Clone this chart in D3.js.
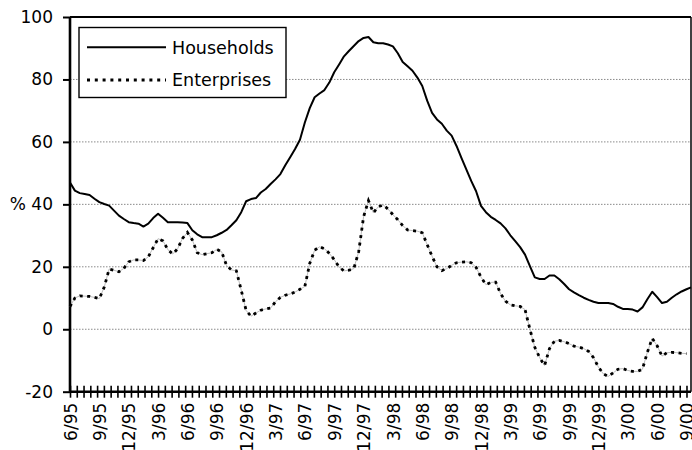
<!DOCTYPE html>
<html>
<head>
<meta charset="utf-8">
<script src="https://cdn.jsdelivr.net/npm/d3@7"></script>
<style>
  html, body { margin: 0; padding: 0; background: #fff; }
  svg { display: block; }
  text { font-family: "DejaVu Sans", sans-serif; fill: #000; }
</style>
</head>
<body>
<svg id="chart" width="692" height="450"></svg>
<script>
// ---- data (semi-monthly readings, starting 6/95) ----
const xLabels = ["6/95","9/95","12/95","3/96","6/96","9/96","12/96","3/97","6/97","9/97","12/97",
                 "3/98","6/98","9/98","12/98","3/99","6/99","9/99","12/99","3/00","6/00","9/00"];
const yTicks = [-20, 0, 20, 40, 60, 80, 100];
const seriesNames = ["Households", "Enterprises"];
const households = [
  47, 44.4, 43.6, 43.3, 43, 41.8, 40.7, 40.1, 39.6, 38,
  36.4, 35.3, 34.3, 34, 33.8, 32.9, 33.8, 35.6, 37, 35.7,
  34.3, 34.3, 34.3, 34.2, 34, 31.7, 30.4, 29.5, 29.5, 29.5,
  30.1, 30.9, 31.8, 33.3, 34.9, 37.5, 41, 41.7, 42, 43.8,
  44.9, 46.5, 48, 49.7, 52.5, 55.1, 57.7, 60.7, 66.2, 70.8,
  74.3, 75.5, 76.6, 79, 82.3, 84.8, 87.4, 89.1, 90.7, 92.3,
  93.3, 93.6, 91.9, 91.6, 91.6, 91.2, 90.6, 88.4, 85.6, 84.2,
  82.8, 80.6, 77.9, 73.2, 69.3, 67.2, 65.8, 63.6, 62, 58.7,
  54.9, 51.2, 47.5, 44.2, 39.5, 37.5, 36, 35, 33.9, 32.3,
  30.1, 28.2, 26.3, 23.9, 20.2, 16.6, 16.1, 16.1, 17.2, 17.2,
  16, 14.5, 12.8, 11.8, 10.9, 10.1, 9.4, 8.8, 8.4, 8.4,
  8.4, 8.1, 7.2, 6.5, 6.5, 6.3, 5.7, 7, 9.6, 12,
  10.3, 8.4, 8.8, 10.1, 11.2, 12.1, 12.8, 13.4];
const enterprises = [
  7.3, 10, 10.7, 10.6, 10.5, 10.2, 9.8, 13.5, 19.3, 18.9,
  18.4, 19.5, 21.6, 22.2, 22.2, 22, 23.2, 26.1, 29, 28.3,
  25.5, 24.1, 25.8, 29.1, 31, 28.6, 24.5, 23.9, 24.2, 24.5,
  25.6, 24.8, 20.4, 19, 18.7, 12.5, 6, 4.2, 5.2, 6.1,
  6.5, 6.8, 8.8, 10.2, 10.9, 11.3, 11.9, 12.8, 13.7, 21.1,
  25.3, 26.4, 25.8, 24.3, 22.3, 19.9, 18.7, 18.9, 19.4, 24.8,
  36, 41.2, 37.3, 39.2, 39.8, 38.5, 36.7, 35.1, 33.2, 31.8,
  31.6, 31.4, 30.9, 27.1, 23.4, 20, 18.8, 19.4, 20.5, 21.3,
  21.5, 21.6, 21.3, 19.8, 16.7, 14.3, 15, 15.1, 11.4, 9,
  7.8, 7.5, 7.3, 6.3, 0, -5.8, -9.1, -11.6, -6.2, -3.8,
  -3.6, -4, -4.6, -5.4, -5.7, -6.2, -7.1, -9.1, -12.1, -14.3,
  -15.1, -14, -12.8, -12.6, -13.2, -13.5, -13.5, -12.8, -7.4, -2.9,
  -5.3, -8.6, -7.5, -7.4, -7.5, -7.7, -7.8];

// ---- layout ----
const svg = d3.select("#chart");
const pLeft = 70, pRight = 691, pTop = 17, pBottom = 391.7;
const weeksPerStep = 13 / 6;   // half a month
const totalWeeks = 275;

const x = d3.scaleLinear().domain([0, totalWeeks]).range([pLeft, pRight]);
const y = d3.scaleLinear().domain([-20, 100]).range([pBottom, pTop]);

// gridlines
svg.append("g")
  .selectAll("line")
  .data(yTicks.filter(v => v > -20 && v < 100))
  .join("line")
  .attr("x1", pLeft).attr("x2", pRight)
  .attr("y1", d => y(d)).attr("y2", d => y(d))
  .attr("stroke", "#8a8a8a")
  .attr("stroke-width", 1)
  .attr("stroke-dasharray", "1.5,1.5");

// frame top and right
svg.append("line").attr("x1", pLeft).attr("x2", pRight).attr("y1", pTop).attr("y2", pTop)
  .attr("stroke", "#000").attr("stroke-width", 1.8);
svg.append("line").attr("x1", pRight).attr("x2", pRight).attr("y1", pTop).attr("y2", pBottom)
  .attr("stroke", "#000").attr("stroke-width", 1.5);

// y axis
const yAxis = svg.append("g")
  .attr("transform", `translate(${pLeft},0)`)
  .call(d3.axisLeft(y).tickValues(yTicks).tickSize(7).tickPadding(10)
        .tickFormat(d => d === 40 ? "% 40" : String(d)));
yAxis.select(".domain").attr("stroke-width", 2.6).attr("d", `M0,${pTop}V${pBottom}`);
yAxis.selectAll(".tick line").attr("stroke-width", 2);
yAxis.selectAll("text").style("font-size", "17px").style("font-family", "DejaVu Sans, sans-serif");

// x axis ticks (every 3 weeks, crossing)
const tickWeeks = d3.range(0, totalWeeks + 1, 3);
const xTicks = svg.append("g")
  .attr("transform", `translate(0,${pBottom})`)
  .call(d3.axisBottom(x).tickValues(tickWeeks).tickSize(6).tickFormat(""));
xTicks.select(".domain").remove();
xTicks.selectAll(".tick line").attr("y1", -6).attr("y2", 6).attr("stroke-width", 1.6);

// x axis labels (every 13 weeks)
const labelWeeks = xLabels.map((_, i) => i * 13);
const xLab = svg.append("g")
  .attr("transform", `translate(0,${pBottom})`)
  .call(d3.axisBottom(x).tickValues(labelWeeks).tickSize(0)
        .tickFormat((d, i) => xLabels[i]));
xLab.select(".domain").remove();
xLab.selectAll("text")
  .attr("transform", "rotate(-90)")
  .attr("text-anchor", "end")
  .attr("x", -11)
  .attr("y", 0)
  .attr("dy", "0.36em")
  .style("font-size", "17px")
  .style("font-family", "DejaVu Sans, sans-serif");

// bottom axis line
svg.append("line").attr("x1", pLeft).attr("x2", pRight).attr("y1", pBottom).attr("y2", pBottom)
  .attr("stroke", "#000").attr("stroke-width", 2.6);

// lines
const line = d3.line()
  .x((d, i) => x(Math.min(i * weeksPerStep, totalWeeks)))
  .y(d => y(d));

svg.append("path").datum(enterprises)
  .attr("d", line).attr("fill", "none")
  .attr("stroke", "#aaa").attr("stroke-width", 0.8);
svg.append("path").datum(enterprises)
  .attr("d", line).attr("fill", "none")
  .attr("stroke", "#000").attr("stroke-width", 2.8)
  .attr("stroke-dasharray", "3,4.5");
svg.append("path").datum(households)
  .attr("d", line).attr("fill", "none")
  .attr("stroke", "#000").attr("stroke-width", 2)
  .attr("stroke-linejoin", "round");

// legend
const lg = svg.append("g");
lg.append("rect").attr("x", 79).attr("y", 27.5).attr("width", 207).attr("height", 70)
  .attr("fill", "#fff").attr("stroke", "#000").attr("stroke-width", 1.4);
const legendRows = [
  { name: seriesNames[0], dash: null, w: 2, cy: 47.3 },
  { name: seriesNames[1], dash: "3,4.8", w: 3, cy: 80 }
];
legendRows.forEach(r => {
  lg.append("line").attr("x1", 87).attr("x2", 166).attr("y1", r.cy).attr("y2", r.cy)
    .attr("stroke", "#000").attr("stroke-width", r.w)
    .attr("stroke-dasharray", r.dash);
  lg.append("text").attr("x", 172).attr("y", r.cy).attr("dy", "0.36em")
    .style("font-size", "17.5px").text(r.name);
});
</script>
</body>
</html>
